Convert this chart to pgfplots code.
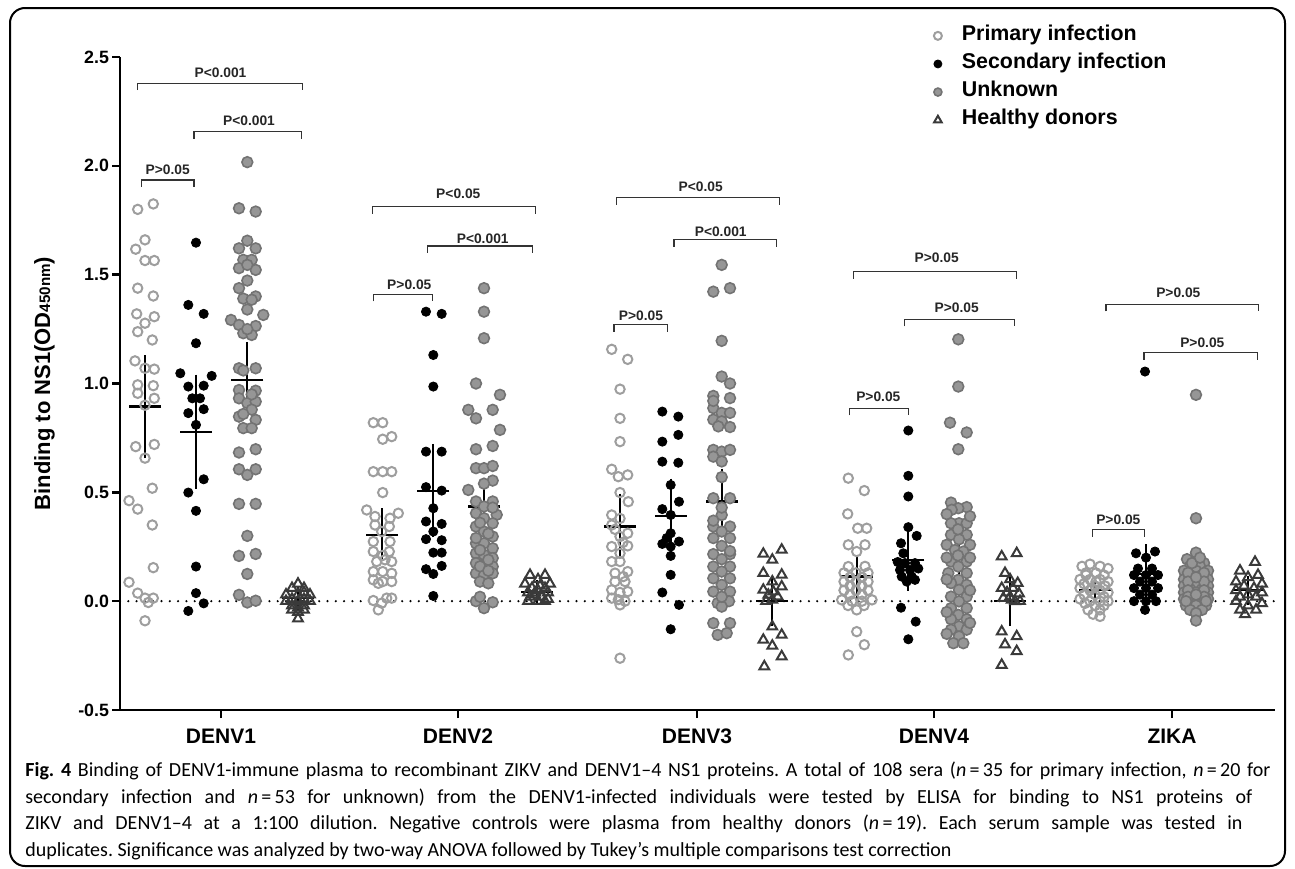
\documentclass[border=0pt]{standalone}
\usepackage{fontspec}
\setmainfont{Liberation Sans}
\newfontfamily\capfont{Carlito}
\usepackage{pgfplots}
\usepackage{pgfplotstable}
\pgfplotsset{compat=1.18}
\definecolor{prim}{RGB}{158,158,158}
\definecolor{unkf}{RGB}{150,150,150}
\definecolor{unks}{RGB}{115,115,115}
\definecolor{hd}{RGB}{58,58,58}

\pgfplotstableread{
x y
137.7 1.80
153.3 1.825
145 1.66
135.7 1.617
145 1.565
154.3 1.565
137.7 1.438
153.3 1.402
136.7 1.32
154.3 1.307
145 1.277
137.7 1.238
152.3 1.20
135 1.104
145 1.07
154.3 1.066
137.7 0.994
153.3 0.99
137.7 0.955
154.3 0.932
145 0.90
135.7 0.71
154.3 0.72
145 0.657
152.3 0.519
129 0.462
137.7 0.423
152.3 0.35
153.3 0.154
129 0.087
137.7 0.037
145 0.014
153.3 0.014
148.3 -0.006
145 -0.09
373.3 0.82
382.7 0.82
382.7 0.744
391.7 0.756
373.3 0.595
382.7 0.595
391.7 0.595
382.7 0.499
366.7 0.419
398.3 0.404
375 0.389
390 0.381
375 0.35
389.3 0.343
381.7 0.32
373.3 0.274
390 0.274
373.3 0.228
389.3 0.228
376.7 0.182
385 0.19
391.7 0.182
373.3 0.136
382.7 0.136
391.7 0.128
373.3 0.098
382.7 0.09
391.7 0.09
378.3 0.082
386.7 0.014
391.7 0.014
373.3 0.003
381.7 -0.009
378.3 -0.04
382.7 0.21
611.7 1.157
627.7 1.111
620 0.974
620 0.84
620 0.733
611.7 0.606
618.3 0.572
627.7 0.58
620 0.499
628.3 0.457
611.7 0.396
620 0.38
611.7 0.35
627.7 0.312
620 0.297
611.7 0.251
627.7 0.254
620 0.22
611.7 0.182
620 0.182
615 0.129
627.7 0.136
623.3 0.113
611.7 0.052
620 0.04
627.7 0.044
611.7 0.014
618.3 0.007
625 0.0
620 -0.017
620 -0.262
615 0.33
623 0.27
615 0.09
625 0.09
848.3 0.565
864.3 0.508
847.7 0.401
857.7 0.335
866.7 0.335
848.3 0.259
865 0.259
856.7 0.228
848.3 0.159
865 0.16
844 0.13
856 0.13
868 0.13
850 0.11
862 0.11
844 0.09
856 0.09
868 0.09
850 0.07
862 0.07
844 0.05
856 0.05
868 0.05
850 0.03
862 0.03
841.7 0.006
852 0.0
862 0.0
872 0.006
848 -0.02
864 -0.02
856.7 -0.04
856.7 -0.14
864.3 -0.2
848.3 -0.247
1082 0.16
1090 0.17
1100 0.16
1108 0.15
1086 0.13
1096 0.13
1104 0.12
1080 0.1
1090 0.1
1100 0.1
1108 0.09
1084 0.08
1095 0.07
1105 0.07
1080 0.06
1090 0.05
1100 0.05
1108 0.04
1084 0.03
1095 0.03
1104 0.02
1080 0.01
1090 0.0
1100 0.0
1108 0.0
1085 -0.01
1095 -0.02
1104 -0.02
1088 -0.04
1100 -0.04
1093 -0.06
1100 -0.07
1086 0.12
1096 0.09
1092 0.06
}\primary

\pgfplotstableread{
x y
196 1.647
188.3 1.361
203.7 1.32
196 1.185
180.3 1.047
211.7 1.035
188.3 0.986
203.7 0.99
192.3 0.932
200 0.932
188.3 0.864
203.7 0.882
196 0.81
203.7 0.56
188.3 0.499
196 0.415
196 0.159
196 0.037
203.7 -0.01
188.3 -0.045
426 1.33
441.7 1.32
433.3 1.131
433.3 0.986
426 0.687
441.7 0.687
426 0.524
441.7 0.508
433.3 0.427
426 0.366
441.7 0.355
433.3 0.32
426 0.285
441.7 0.28
433.3 0.223
441.7 0.223
426 0.147
441.7 0.162
433.3 0.125
433.3 0.024
662.3 0.871
678.3 0.848
678.3 0.764
662.3 0.733
662.3 0.641
678.3 0.636
670.7 0.534
679 0.457
662.3 0.423
670.7 0.396
670.7 0.312
662.3 0.263
679 0.274
670.7 0.251
670.7 0.208
670.7 0.121
662.3 0.04
679 -0.017
670.7 -0.129
666.7 0.29
908.3 0.784
908.3 0.576
908.3 0.481
908.3 0.34
916.7 0.3
901 0.266
897.7 0.18
905 0.175
915 0.175
900 0.143
910 0.143
918.3 0.15
901.7 0.113
911.7 0.113
906.7 0.09
915 0.098
901 -0.03
915.7 -0.094
908.3 -0.175
903.3 0.22
1145 1.055
1136 0.22
1155 0.228
1146 0.2
1138 0.15
1152 0.15
1134 0.12
1146 0.12
1158 0.12
1140 0.09
1152 0.09
1134 0.06
1146 0.06
1158 0.06
1140 0.03
1152 0.03
1134 0.0
1146 0.0
1156 0.0
1145 -0.04
}\secondary

\pgfplotstableread{
x y
247.3 2.017
239 1.805
255.7 1.79
247.3 1.656
239 1.621
255.7 1.621
243.3 1.568
251.7 1.568
239 1.53
255.7 1.522
247.3 1.473
239 1.438
255.7 1.40
243.3 1.39
251.7 1.385
263.3 1.315
231 1.292
239 1.269
255.7 1.264
243.3 1.231
251.7 1.223
239 1.07
255.7 1.07
239 0.97
255.7 0.967
239 0.932
247.3 0.91
255.7 0.917
239 0.848
255.7 0.833
243.3 0.795
251.7 0.795
239 0.683
255.7 0.698
239 0.606
255.7 0.606
247.3 0.58
239 0.447
255.7 0.447
247.3 0.30
239 0.208
255.7 0.217
247.3 0.125
239 0.029
247.3 -0.006
255.7 0.002
247.3 1.25
251.7 0.88
243.3 0.86
247.3 1.545
251.7 0.95
243.3 1.06
247.3 1.34
484 1.438
484 1.33
484 1.208
476 1.0
500 0.948
468.3 0.879
476 0.84
492.7 0.879
500 0.787
476 0.698
492.7 0.713
476 0.611
484 0.611
492.7 0.621
492.7 0.554
468.3 0.511
476 0.458
492.7 0.458
484 0.435
476 0.404
496.7 0.397
484 0.381
476 0.343
492.7 0.358
484 0.32
492.7 0.297
476 0.266
484 0.266
492.7 0.243
476 0.22
484 0.213
492.7 0.198
476 0.175
484 0.167
492.7 0.159
476 0.128
484 0.12
492.7 0.128
480 0.09
488.3 0.082
476 0.0
492.7 -0.005
484 -0.032
484 0.54
476 0.29
492.7 0.43
480 0.36
488.3 0.31
480 0.235
488.3 0.19
480 0.16
488.3 0.14
480 0.02
721.7 1.545
713.3 1.422
730 1.438
721.7 1.196
721.7 1.032
713.3 0.943
730 0.933
713.3 0.887
721.7 0.865
730 0.865
713.3 0.834
721.7 0.826
718.3 0.803
713.3 0.695
721.7 0.687
730 0.695
713.3 0.664
721.7 0.642
721.7 0.57
713.3 0.473
730 0.473
721.7 0.396
713.3 0.343
730 0.343
721.7 0.32
713.3 0.29
730 0.29
721.7 0.254
713.3 0.216
730 0.216
721.7 0.193
713.3 0.159
730 0.159
721.7 0.136
713.3 0.105
730 0.105
721.7 0.075
713.3 0.044
730 0.044
717.7 -0.009
729 0.0
721.7 -0.025
713.3 -0.101
730 -0.101
717.7 -0.155
726.7 -0.147
730 1.0
713.3 0.92
730 0.80
721.7 0.43
713.3 0.37
730 0.23
721.7 0.02
958.3 1.203
958.3 0.986
950 0.82
966.7 0.775
958.3 0.698
951 0.453
966.7 0.432
958.3 0.427
951.7 0.42
959 0.358
966.7 0.358
951 0.358
951 0.305
966.7 0.305
959 0.284
946.7 0.259
970 0.259
955 0.235
963.3 0.228
951 0.182
966.7 0.182
958.3 0.159
948.3 0.129
966.7 0.129
958.3 0.098
951 0.083
966.7 0.075
959 0.052
951 0.021
966.7 0.021
959 -0.001
951 -0.032
966.7 -0.032
958.3 -0.063
951 -0.083
966.7 -0.083
959 -0.116
951 -0.131
966.7 -0.131
959 -0.162
953.3 -0.193
963.3 -0.193
946.7 0.4
970 0.39
958 0.33
946.7 0.2
970 0.2
958 0.21
946.7 0.1
970 0.05
946.7 -0.05
970 -0.1
946.7 -0.15
1196 0.948
1196 0.381
1196 0.223
1187 0.193
1204 0.175
1190 0.16
1200 0.16
1184 0.14
1196 0.14
1208 0.14
1190 0.12
1202 0.12
1184 0.10
1196 0.10
1208 0.10
1190 0.085
1202 0.085
1184 0.07
1196 0.07
1208 0.07
1190 0.055
1202 0.055
1184 0.04
1196 0.04
1208 0.04
1190 0.025
1202 0.025
1184 0.01
1196 0.01
1208 0.01
1190 -0.005
1202 -0.005
1186 -0.02
1196 -0.02
1206 -0.02
1190 -0.04
1202 -0.04
1196 -0.055
1196 -0.089
1188 0.13
1204 0.13
1188 0.09
1204 0.09
1188 0.05
1204 0.05
1188 0.02
1204 0.02
1192 0.175
1200 0.2
1196 0.11
1196 0.03
1186 0.0
1206 0.0
}\unknown

\pgfplotstableread{
x y
298 0.08
292 0.06
304 0.06
286 0.03
298 0.03
310 0.03
292 0.01
304 0.01
286 0.0
298 0.0
310 0.0
292 -0.02
304 -0.02
298 -0.03
292 -0.04
304 -0.04
298 -0.05
298 -0.08
304 0.04
530 0.12
545 0.12
538 0.10
525 0.08
550 0.08
532 0.06
545 0.06
538 0.05
528 0.04
548 0.04
535 0.03
542 0.02
530 0.02
548 0.01
538 0.0
528 0.0
545 0.0
535 0.04
540 0.07
763.3 0.217
781.7 0.236
772.3 0.19
763.3 0.129
781.7 0.121
772.3 0.09
763.3 0.052
781.7 0.067
773.3 0.044
768.3 0.029
777.7 0.021
772.3 0.006
766 0.0
772.3 -0.117
781.7 -0.155
763.3 -0.178
772.3 -0.205
781.7 -0.254
764.3 -0.3
1001.7 0.205
1016.7 0.22
1005 0.129
1001.7 0.06
1017.7 0.083
1010 0.1
1019 0.035
1003.3 0.014
1011.7 0.006
1015 -0.001
1007 0.04
1013 0.06
1001.7 -0.14
1016.7 -0.162
1005 -0.199
1016.7 -0.23
1001.7 -0.293
1010 0.02
1020 0.0
1255 0.18
1240 0.14
1258 0.12
1248 0.11
1236 0.09
1262 0.08
1244 0.07
1254 0.06
1236 0.05
1262 0.04
1248 0.03
1240 0.02
1256 0.02
1236 0.0
1262 -0.01
1248 -0.02
1240 -0.04
1256 -0.04
1245 -0.06
}\healthy

\pgfplotstableread{
x y e
145 0.894 0.2
196 0.779 0.225
247.3 1.017 0.138
298 0.014 0.02
382 0.305 0.085
433.3 0.508 0.178
484 0.435 0.09
537 0.044 0.015
620 0.343 0.114
670.7 0.391 0.135
721.7 0.458 0.114
772 0.0 0.078
857 0.113 0.064
908.3 0.19 0.106
959 0.205 0.085
1010 0.0 0.078
1095 0.052 0.02
1146 0.125 0.1
1196 0.09 0.03
1248 0.05 0.03
}\means

\newcommand{\bracket}[6]{%
  \draw[line width=0.6pt, black!80] ([yshift=-3.5pt]axis cs:#1,#3) -- (axis cs:#1,#3) -- (axis cs:#2,#3) -- ([yshift=-3.5pt]axis cs:#2,#3);
  \node[font=\bfseries\fontsize{6.9}{8}\selectfont, black!85, inner sep=0pt] at (axis cs:#5,#6) {#4};
}

\begin{document}
\frenchspacing
\begin{tikzpicture}[x=1pt,y=1pt]
\useasboundingbox (0,0) rectangle (647.5,-434);
\draw[line width=1pt, rounded corners=7.5pt] (5,-4) rectangle (642.5,-433);
\begin{axis}[
  at={(60pt,-355pt)}, anchor=south west,
  scale only axis, width=577.5pt, height=326.5pt,
  xmin=120, xmax=1275, ymin=-0.5, ymax=2.5,
  clip=false,
  axis lines=left,
  axis line style={line width=1.3pt, -},
  tick align=outside,
  major tick length=4pt,
  tick style={line width=1.3pt, black},
  xtick={221,458,697,934,1172},
  xticklabels={DENV1,DENV2,DENV3,DENV4,ZIKA},
  ytick={-0.5,0,0.5,1,1.5,2,2.5},
  yticklabels={-0.5,0.0,0.5,1.0,1.5,2.0,2.5},
  xticklabel style={font=\bfseries\fontsize{10.5}{12}\selectfont, yshift=-2pt},
  yticklabel style={font=\bfseries\fontsize{8.9}{10}\selectfont, xshift=2pt},
  ylabel={Binding to NS1(OD{\fontsize{7.6}{8}\selectfont 450nm})},
  every axis y label/.style={at={(axis description cs:-0.0606,0.5)}, rotate=90, anchor=base, font=\bfseries\fontsize{11}{13}\selectfont},
  legend style={draw=none, fill=none, at={(axis description cs:0.6974, 1.0545)}, anchor=north west,
    font=\bfseries\fontsize{10.7}{12}\selectfont, inner sep=0pt, row sep=0pt, column sep=6pt,
    nodes={inner sep=0pt, text height=9.4pt, text depth=4.65pt}},
  legend cell align=left,
  legend image code/.code={\path[draw=none, fill=none] (-6pt,-3pt) rectangle (6pt,3pt); \draw[#1] plot coordinates {(0pt,0pt)};},
]
\draw[line width=1.2pt, dash pattern=on 0pt off 4.15pt, line cap=round] (axis cs:120,0) -- (axis cs:1275,0);

\addplot[only marks, mark=-, mark size=8pt, mark options={line width=1.1pt, black}, forget plot,
  error bars/.cd, y dir=both, y explicit, error bar style={line width=1.1pt, black},
  error mark options={line width=1.1pt, mark size=4pt, black}]
  table[x=x, y=y, y error=e] {\means};

\addplot[only marks, mark=o, mark size=2.35pt, mark options={draw=prim, line width=1pt},
  legend image post style={mark size=2pt}] table[x=x,y=y] {\primary};
\addlegendentry{Primary infection}
\addplot[only marks, mark=*, mark size=2.3pt, mark options={draw=black, fill=black, line width=0.4pt},
  legend image post style={mark size=2pt}] table[x=x,y=y] {\secondary};
\addlegendentry{Secondary infection}
\addplot[only marks, mark=*, mark size=2.7pt, mark options={draw=unks, fill=unkf, line width=0.8pt},
  legend image post style={mark size=2pt}] table[x=x,y=y] {\unknown};
\addlegendentry{Unknown}
\addplot[only marks, mark=triangle, mark size=2.8pt, mark options={draw=hd, line width=1pt},
  legend image post style={mark size=2.2pt}] table[x=x,y=y] {\healthy};
\addlegendentry{Healthy donors}

\bracket{141.7}{194}{1.935}{P>0.05}{167.7}{1.984}
\bracket{137.7}{302.3}{2.38}{P<0.001}{220.5}{2.428}
\bracket{194}{301.7}{2.157}{P<0.001}{249}{2.208}
\bracket{372.7}{535.7}{1.813}{P<0.05}{458.3}{1.87}
\bracket{427.7}{532.7}{1.632}{P<0.001}{482.7}{1.667}
\bracket{373.7}{432.7}{1.41}{P>0.05}{409.3}{1.453}
\bracket{616.7}{779.3}{1.854}{P<0.05}{700.7}{1.902}
\bracket{674}{776.7}{1.66}{P<0.001}{720.7}{1.698}
\bracket{614}{667.7}{1.27}{P>0.05}{641}{1.312}
\bracket{853.3}{1016.7}{1.514}{P>0.05}{936.7}{1.576}
\bracket{904.3}{1014.3}{1.295}{P>0.05}{956.7}{1.349}
\bracket{849.3}{908.3}{0.886}{P>0.05}{878.3}{0.94}
\bracket{1106}{1258.3}{1.364}{P>0.05}{1178.3}{1.418}
\bracket{1144}{1257.3}{1.142}{P>0.05}{1202.3}{1.185}
\bracket{1092.3}{1144.3}{0.3275}{P>0.05}{1118.3}{0.373}
\end{axis}

\begin{scope}[every node/.style={anchor=base west, inner sep=0pt, font=\capfont\fontsize{10}{12}\selectfont}]
\node at (12.5,-388.35) {\makebox[622.5pt][s]{\textbf{Fig.\ 4} Binding of DENV1-immune plasma to recombinant ZIKV and DENV1–4 NS1 proteins. A total of 108 sera (\textit{n}\,=\,35 for primary infection, \textit{n}\,=\,20 for}};
\node at (12.5,-401.6) {\makebox[613.5pt][s]{secondary infection and \textit{n}\,=\,53 for unknown) from the DENV1-infected individuals were tested by ELISA for binding to NS1 proteins of}};
\node at (12.5,-414.85) {\makebox[608.5pt][s]{ZIKV and DENV1–4 at a 1:100 dilution. Negative controls were plasma from healthy donors (\textit{n}\,=\,19). Each serum sample was tested in}};
\node at (12.5,-428.1) {duplicates. Significance was analyzed by two-way ANOVA followed by Tukey’s multiple comparisons test correction};
\end{scope}
\end{tikzpicture}
\end{document}
